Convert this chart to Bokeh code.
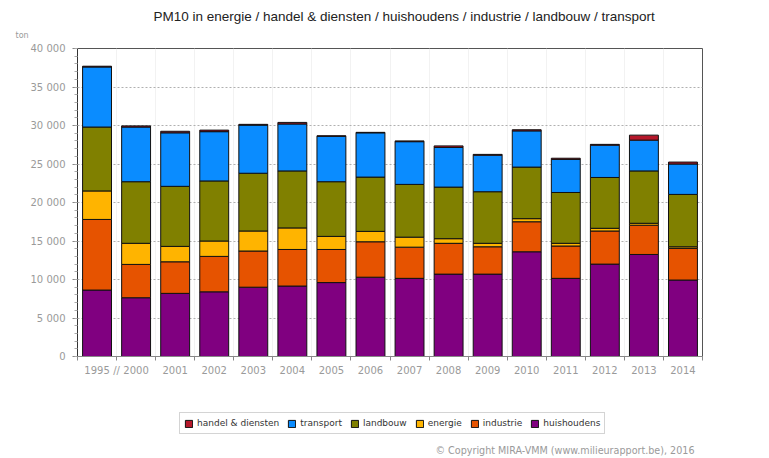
import numpy as np
from bokeh.plotting import figure
from bokeh.layouts import column
from bokeh.models import (ColumnDataSource, FixedTicker, SingleIntervalTicker, Legend,
                          LegendItem, Title, Label, Range1d)
from bokeh.embed import file_html
from bokeh.resources import INLINE

years = ["1995", "2000", "2001", "2002", "2003", "2004", "2005", "2006", "2007",
         "2008", "2009", "2010", "2011", "2012", "2013", "2014"]
huishoudens = [8630, 7630, 8200, 8400, 9000, 9150, 9600, 10300, 10150, 10700, 10700, 13600, 10150, 12000, 13250, 9930]
industrie = [9170, 4330, 4100, 4600, 4700, 4750, 4300, 4600, 4050, 4000, 3550, 3900, 4200, 4300, 3800, 4120]
energie = [3700, 2740, 2000, 2000, 2600, 2800, 1700, 1350, 1300, 600, 450, 400, 350, 350, 250, 200]
landbouw = [8300, 8000, 7800, 7800, 7500, 7400, 7100, 7050, 6850, 6700, 6700, 6700, 6600, 6600, 6800, 6800]
transport = [7800, 7100, 6950, 6400, 6250, 6100, 5900, 5750, 5550, 5150, 4750, 4700, 4300, 4200, 4000, 3950]
handel = [100, 150, 200, 200, 100, 200, 60, 60, 100, 200, 100, 150, 150, 100, 650, 250]

series = ["huishoudens", "industrie", "energie", "landbouw", "transport", "handel & diensten"]
colors = ["#800080", "#E65300", "#FFB400", "#808000", "#0A8CFF", "#B5172A"]
values = [huishoudens, industrie, energie, landbouw, transport, handel]

x = np.arange(len(years)) + 0.5
data = {"x": x}
for name, vals in zip(series, values):
    data[name] = vals
source = ColumnDataSource(data)

tick_font = "DejaVu Sans"

p = figure(width=769, height=400, output_backend="svg", toolbar_location=None,
           x_range=Range1d(0, len(years)), y_range=Range1d(0, 40000),
           min_border_left=77, min_border_right=67, min_border_top=48, min_border_bottom=44)
p.title.visible = False

renderers = p.vbar_stack(series, x="x", width=0.74, color=colors, source=source,
                         line_color="#111111", line_width=1)

p.yaxis.ticker = SingleIntervalTicker(interval=5000, num_minor_ticks=5)
p.yaxis.major_label_overrides = {v: ("{:,}".format(v)).replace(",", " ") for v in range(0, 40001, 5000)}
p.yaxis.major_label_text_font = tick_font
p.yaxis.major_label_text_font_size = "10px"
p.yaxis.major_label_text_color = "#9a9a9a"
p.yaxis.axis_line_color = "#333333"
p.yaxis.major_tick_in = 0
p.yaxis.major_tick_out = 5
p.yaxis.minor_tick_in = 0
p.yaxis.minor_tick_out = 3
p.yaxis.major_tick_line_color = "#888888"
p.yaxis.minor_tick_line_color = "#aaaaaa"
p.yaxis.major_label_standoff = 7

centers = list(x) + [1.0]
p.xaxis.ticker = FixedTicker(ticks=centers, minor_ticks=list(range(len(years) + 1)))
overrides = {float(c): y for c, y in zip(x, years)}
overrides[1.0] = "//"
p.xaxis.major_label_overrides = overrides
p.xaxis.major_label_text_font = tick_font
p.xaxis.major_label_text_font_size = "10px"
p.xaxis.major_label_text_color = "#9a9a9a"
p.xaxis.major_tick_line_color = None
p.xaxis.major_tick_in = 0
p.xaxis.major_tick_out = 0
p.xaxis.minor_tick_in = 0
p.xaxis.minor_tick_out = 4
p.xaxis.minor_tick_line_color = "#888888"
p.xaxis.axis_line_color = "#888888"
p.xaxis.major_label_standoff = 4

p.ygrid.grid_line_color = "#b0b0b0"
p.ygrid.grid_line_dash = "2 2"
p.xgrid.ticker = FixedTicker(ticks=list(range(len(years) + 1)))
p.xgrid.grid_line_color = "#f2f2f2"
p.outline_line_color = "#555555"
p.outline_line_width = 1

p.add_layout(Title(text="ton", align="left", offset=-62, standoff=14, vertical_align="top",
                   text_font=tick_font, text_font_size="8px", text_font_style="normal",
                   text_color="#9a9a9a"), "above")
p.add_layout(Title(text="PM10 in energie / handel & diensten / huishoudens / industrie / landbouw / transport",
                   align="left", offset=76, standoff=0, text_font="Liberation Sans",
                   text_font_size="13.5px", text_font_style="normal",
                   text_color="#222222"), "above")

# bottom strip: legend and copyright (its frame is aligned with the chart frame)
p2 = figure(width=769, height=58, output_backend="svg", toolbar_location=None,
            x_range=Range1d(-20, -4), y_range=Range1d(50000, 90000),
            x_axis_type=None, y_axis_type=None,
            min_border_left=0, min_border_right=0, min_border_top=0, min_border_bottom=0)
p2.title.visible = False
p2.outline_line_color = None
p2.grid.visible = False

# same data, out of the strip's view: only their legend swatches show
swatches = [p2.vbar(x="x", top=name, width=0.74, source=source, fill_color=c,
                    line_color="#111111") for name, c in zip(series, colors)]
items = [LegendItem(label=name, renderers=[r]) for name, r in zip(series, swatches)][::-1]
legend = Legend(items=items, orientation="horizontal", location=(102, 24),
                glyph_width=9, glyph_height=9, label_standoff=4, spacing=8,
                padding=4, margin=0, label_height=12,
                label_text_font=tick_font, label_text_font_size="9px",
                label_text_color="#333333", border_line_color="#aaaaaa",
                background_fill_alpha=1.0)
p2.add_layout(legend, "center")
p2.add_layout(Label(x=617, y=8, x_units="screen", y_units="screen",
                    text="\u00a9 Copyright MIRA-VMM (www.milieurapport.be), 2016",
                    text_align="right", text_baseline="middle", text_font=tick_font,
                    text_font_size="9.6px", text_color="#9a9a9a"))

layout = column(p, p2, spacing=0)
open("out.html", "w").write(file_html(layout, INLINE))
